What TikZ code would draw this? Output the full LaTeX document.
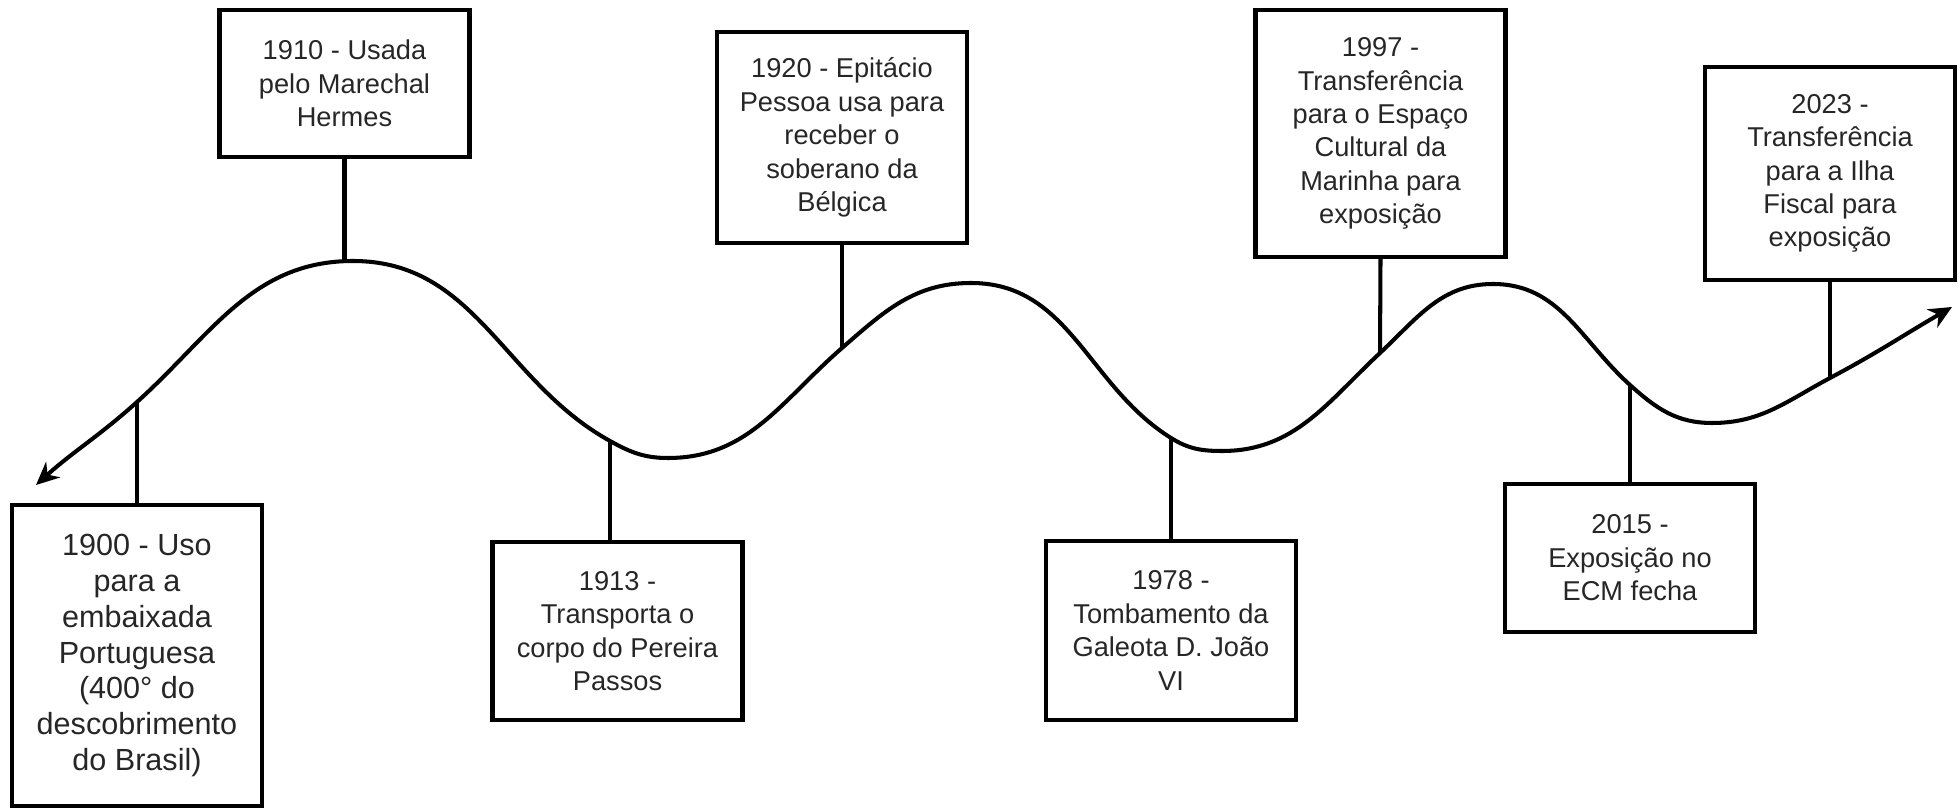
\documentclass[tikz,border=0pt]{standalone}
\usepackage{fontspec}
\setmainfont{Liberation Sans}
\usetikzlibrary{arrows.meta}

\begin{document}
\begin{tikzpicture}[>={Stealth[length=2.3mm,width=2.1mm]}, line width=1.15pt,
  event/.style={draw, rectangle, minimum width=2.5cm, align=center, inner sep=0pt,
    text=black!85, font=\fontsize{7.75}{9.5}\selectfont},
  stem/.style={line width=1.15pt}]
  \useasboundingbox (0,0) rectangle (19.6,-8.09);

  \node[event, minimum height=3.01cm, font=\fontsize{8.7}{10.2}\selectfont] (b1900) at (1.37,-6.555)
    {1900 - Uso\\para a\\embaixada\\Portuguesa\\(400° do\\descobrimento\\do Brasil)};
  \node[event, minimum height=1.47cm] (b1910) at (3.445,-0.835) {1910 - Usada\\pelo Marechal\\Hermes};
  \node[event, minimum height=1.78cm] (b1913) at (6.175,-6.31) {1913 -\\Transporta o\\corpo do Pereira\\Passos};
  \node[event, minimum height=2.11cm] (b1920) at (8.42,-1.375) {1920 - Epitácio\\Pessoa usa para\\receber o\\soberano da\\Bélgica};
  \node[event, minimum height=1.79cm] (b1978) at (11.71,-6.305) {1978 -\\Tombamento da\\Galeota D. João\\VI};
  \node[event, minimum height=2.47cm] (b1997) at (13.805,-1.335) {1997 -\\Transferência\\para o Espaço\\Cultural da\\Marinha para\\exposição};
  \node[event, minimum height=1.48cm] (b2015) at (16.30,-5.58) {2015 -\\Exposição no\\ECM fecha};
  \node[event, minimum height=2.13cm] (b2023) at (18.30,-1.735) {2023 -\\Transferência\\para a Ilha\\Fiscal para\\exposição};

  \coordinate (s) at (0.36,-4.85);
  \coordinate (t1900) at (1.37,-4.02);
  \coordinate (p1) at (3.53,-2.61);
  \coordinate (t1910) at (3.445,-2.62);
  \coordinate (t1913) at (6.10,-4.41);
  \coordinate (v1) at (6.68,-4.58);
  \coordinate (t1920) at (8.42,-3.48);
  \coordinate (p2) at (9.71,-2.83);
  \coordinate (t1978) at (11.71,-4.38);
  \coordinate (v2) at (12.22,-4.51);
  \coordinate (t1997) at (13.80,-3.53);
  \coordinate (p3) at (14.93,-2.84);
  \coordinate (t2015) at (16.30,-3.85);
  \coordinate (v3) at (17.12,-4.23);
  \coordinate (t2023) at (18.30,-3.78);
  \coordinate (e) at (19.52,-3.07);

  \draw[<->] (s) to[out=42,in=222] (t1900) to[out=42,in=180] (p1)
    to[out=0,in=151] (t1913) to[out=-29,in=180] (v1)
    to[out=0,in=221] (t1920) to[out=41,in=180] (p2)
    to[out=0,in=148] (t1978) to[out=-32,in=180] (v2)
    to[out=0,in=223] (t1997) to[out=43,in=180] (p3)
    to[out=0,in=138] (t2015) to[out=-42,in=180] (v3)
    to[out=0,in=208] (t2023) to[out=28,in=210] (e);

  \draw[stem] (b1900.north) -- (t1900);
  \draw[stem] (b1910.south) -- (t1910);
  \draw[stem] (t1913 |- b1913.north) -- (t1913);
  \draw[stem] (b1920.south) -- (t1920);
  \draw[stem] (b1978.north) -- (t1978);
  \draw[stem] (b1997.south) -- (t1997);
  \draw[stem] (b2015.north) -- (t2015);
  \draw[stem] (b2023.south) -- (t2023);
\end{tikzpicture}
\end{document}
